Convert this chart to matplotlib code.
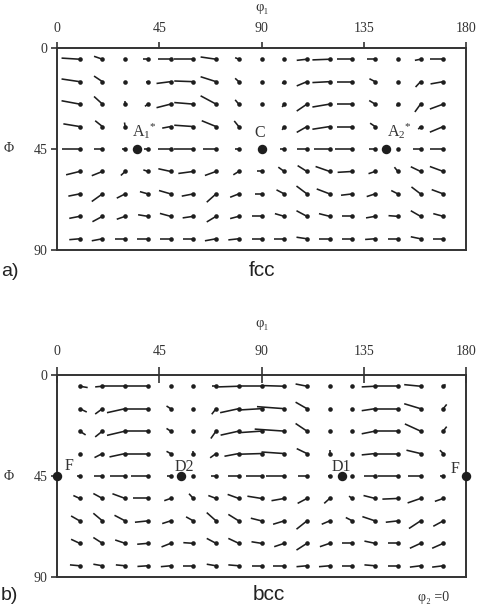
import numpy as np
import matplotlib
matplotlib.use("Agg")
import matplotlib.pyplot as plt

plt.rcParams['font.family'] = ['Liberation Serif', 'DejaVu Serif']

# grid of the vector field
PHI1 = [10, 20, 30, 40, 50, 60, 70, 80, 90, 100, 110, 120, 130, 140, 150, 160, 170]
PHI = [5, 15, 25, 35, 45, 55, 65, 75, 85]
nan = np.nan

# fcc: tail offsets (d phi1, d Phi) of each vector, line goes tail -> grid point
FCC_U = [
    [8, 3.7, 0, 2, 5.7, 8.4, 6.8, 1.6, 0, 0, 4.5, 7.6, 6.9, 3.4, 0, 2.5, 5.9],
    [8, 3.7, 0, 1, 6.2, 8.4, 6.8, 1.6, 0, 0.9, 4.5, 7.6, 6.9, 2.5, 0, 2.2, 5.6],
    [8, 3.7, 0, 1.3, 6.2, 8.4, 6.8, 1.6, 0, 0.9, 4.5, 7.6, 6.9, 2.6, 0.5, 2.5, 5.9],
    [7.2, 3.2, 0.3, nan, 3.7, 8.4, 6.3, 2, nan, 0.9, 4.5, 7.6, 6.9, 2.2, nan, 1, 5.9],
    [8, 3.7, 1.2, 1.6, 5.7, 8.4, 5.6, 1.6, 0, 2, 4.5, 6.8, 7.6, 2.5, 0.5, 3.2, 5.9],
    [6, 4.7, 1.9, 2, 5.4, 6.6, 4.9, 2.4, 2.2, 2.6, 4.1, 6.2, 6.5, 2.9, 1.5, 4.3, 5.9],
    [5, 4.7, 3.7, 3.5, 5.1, 5.1, 4.1, 3.8, 2.9, 3.4, 4.6, 5.7, 5, 3.7, 2.9, 4, 5.1],
    [4.6, 4.4, 3.7, 4.3, 4.7, 4.7, 4.1, 3.8, 4.4, 4.1, 4.6, 4.7, 4.4, 4, 4.1, 4.3, 4.4],
    [4.6, 4.7, 4.4, 4.6, 4.7, 4.7, 4.9, 4.6, 4.4, 4.4, 4.6, 4.7, 4.4, 4.4, 4.4, 4.3, 4.7],
]
FCC_V = [
    [0.5, 1.3, 0, 0, 0, 0, 1, 0.7, 0, 0, -0.5, -0.3, 0, 0, 0, -0.5, 0],
    [1.2, 2.5, 0, 0, -0.8, 0.3, 2.2, 1.5, 0, -0.9, -1.9, -0.4, 0, 1.3, 0, -2.4, -1.0],
    [1.5, 3.4, 1.3, -1, -1.6, 0.7, 3.7, 1.9, 0, -1.3, -3.1, -1.3, 0, 1.6, -1, -3.5, -2.2],
    [1.2, 2.6, 1.8, nan, -0.7, 0.6, 2.6, 2.5, nan, -1.5, -2.6, -1.2, 0, 1.5, nan, -1.2, -2.5],
    [0, 0, 0, 0, 0, 0, 0, 0, 0, 0, 0, 0, 0, 0, 0, 0, 0],
    [-1.5, -1.9, -1.8, 0.7, 1.2, -0.9, -1.8, -1.5, 0, 1.9, 2.6, 2.2, -0.4, -1, 1.9, 2.1, 2.2],
    [-1, -3.4, -1.9, 1, 1.5, -1, -3.7, -1.5, 0, 1.8, 3.5, 2.2, -0.6, -1.2, 1.5, 3.1, 1.9],
    [-0.9, -2.4, -1.3, 0.7, 1.3, -0.7, -2.5, -1, 0, 1.2, 2.5, 1.2, 0, -0.7, 0.3, 2.5, 1.2],
    [-0.4, -0.9, 0, 0, 0, 0, -0.9, -0.5, 0, 0, 0.7, 0, 0, -0.3, 0, 0.9, 0],
]

BCC_U = [
    [-3.5, 3.2, 10, 10, 0, 0, 1.9, 9, 10, 10, 5, 0, 0, 5.9, 10, 7.2, -1],
    [-3.1, 3.2, 8, 10, 1.8, 0, 1.9, 8.2, 10, 12, 5, 0, 0, 5.9, 10, 7.2, -1.5],
    [-2.6, 3.2, 8, 10, 1.8, 0, 2.3, 8, 10, 13, 5, 0, 0, 5.9, 10, 6.9, -1.5],
    [0, 3.5, 6.9, 10, 1.8, 0, 2.6, 6.3, 10, 10, 4.5, 0, 0, 5.9, 10, 6.2, 1.5],
    [1.2, 3.5, 6.6, 7.5, 1.8, 0.3, 2.2, 4.6, 6.9, 7.8, 3.8, 0.9, 0.3, 5.1, 8.8, 5.4, 1.5],
    [2.8, 4, 5.6, 6.5, 2.8, 1.9, 3.4, 4.9, 6.2, 5.6, 4.1, 2.4, 1.5, 5.1, 6.8, 5.7, 3.7],
    [3.8, 4, 4.7, 5.7, 3.7, 3.2, 4.1, 4.6, 4.7, 4.9, 4.6, 3.5, 2.9, 5.6, 5.3, 5.1, 4.4],
    [3.8, 4, 4.4, 4.7, 4, 4.4, 4.1, 4.6, 4.4, 4.4, 4.6, 4.3, 4.4, 4.7, 4.4, 4.7, 4.9],
    [4.3, 4, 4.1, 4.6, 4.3, 4.4, 4.1, 4.6, 4.4, 4.9, 4.6, 4.7, 4.7, 4.7, 4.4, 4.7, 4.9],
]
BCC_V = [
    [-0.6, -0.3, 0, 0, 0, 0, 0, -0.3, 0, 0.3, 1, 0, 0, -0.3, 0, 0.7, 0.8],
    [-1.5, -2.4, -1.8, 0, 1.2, 0, -2.5, -1.8, -0.6, 0.9, 2.9, 0, 0, -0.9, 0, 2.2, 1.9],
    [-1.7, -2.6, -1.9, 0, 1.2, 0, -3.3, -1.8, -0.7, 0.9, 3.4, 0, 0, -1.2, 0, 3.2, 2],
    [0, -1.8, -1.5, 0, 1, 1.2, -1.9, -1.2, -0.3, 0.7, 2.2, 1.5, 0, -0.6, 0, 1.5, 1.5],
    [0, 0, 0, 0, 0, 0, 0, 0, 0, 0, 0, 0, 0, 0, 0, 0, 0],
    [1.3, 2.2, 2.1, 0, -1, 2.1, 1.3, 1.8, 1, -1, -2.2, -2.2, 1, 1.3, -0.3, -2, -1.3],
    [2.2, 3.4, 2.5, -0.6, -1.2, 1.8, 3.7, 2.9, 1.2, -1.5, -3.7, -1.5, 1.5, 1.9, -0.6, -3.4, -2.4],
    [1.8, 2.6, 1.5, -0.4, -1.6, 0.3, 2.2, 2.2, 0.7, -1.5, -3, -1.5, 0, 1, 0, -2.2, -2.2],
    [0.4, 0.7, 0.4, -0.3, -0.4, 0, 0.7, 0.4, 0, 0, -0.4, -0.4, 0, 0.4, 0, -0.6, -0.6],
]

# special orientations (phi1, Phi), label, label position
FCC_POINTS = [(35.26, 45), (90, 45), (144.74, 45)]
FCC_LABELS = [(r'$\mathregular{A_1}^{*}$', 33.2, 39.5), ('C', 87.0, 39.5), (r'$\mathregular{A_2}^{*}$', 145.4, 39.5)]
BCC_POINTS = [(0, 45), (54.74, 45), (125.26, 45), (180, 45)]
BCC_LABELS = [('F', 3.2, 42.5), ('D2', 51.8, 42.7), ('D1', 120.8, 42.7), ('F', 173.4, 43.5)]

TICKS = [0, 45, 90, 135, 180]
YTICKS = [0, 45, 90]

plt.rcParams['mathtext.fontset'] = 'custom'
plt.rcParams['mathtext.rm'] = 'Liberation Serif'
plt.rcParams['mathtext.it'] = 'Liberation Serif:italic'

fig = plt.figure(figsize=(4.8, 6.1), dpi=100)
ax_a = fig.add_axes([57/480, 1-250/610, 409/480, 202/610])
ax_b = fig.add_axes([57/480, 1-577/610, 409/480, 202/610])

col = '#1e1e1e'


def draw_field(ax, U, V, points, labels, tickdir, ticklen, tickpad):
    ax.set_xlim(0, 180)
    ax.set_ylim(90, 0)
    ax.xaxis.tick_top()
    ax.set_xticks(TICKS)
    ax.set_yticks(YTICKS)
    ax.tick_params(axis='x', direction=tickdir, length=ticklen, width=1.2,
                   pad=tickpad, labelsize=10, colors='#333333')
    ax.tick_params(axis='y', direction='out', length=4, width=1.2,
                   pad=3, labelsize=10, colors='#333333')
    for s in ax.spines.values():
        s.set_linewidth(1.4)
        s.set_color('#333333')
    for i, p in enumerate(PHI):
        for j, f in enumerate(PHI1):
            u = U[i][j]
            v = V[i][j]
            if np.isnan(u):
                continue
            ax.plot([f - u, f], [p - v, p], color=col, lw=1.15, solid_capstyle='butt')
            ax.plot(f, p, 'o', color=col, ms=3.3, mew=0)
    for x, y in points:
        ax.plot(x, y, 'o', color=col, ms=6.8, mew=0, clip_on=False, zorder=5)
    for s, x, y in labels:
        ax.text(x, y, s, fontsize=11.5, color='#333333', ha='left', va='baseline')


draw_field(ax_a, FCC_U, FCC_V, FCC_POINTS, FCC_LABELS, 'out', 4, 5)
draw_field(ax_b, BCC_U, BCC_V, BCC_POINTS, BCC_LABELS, 'inout', 11, 7)

for ax, ytop, ymid in [(ax_a, 7, 149), (ax_b, 323, 476)]:
    fig.text(262/480, 1 - ytop/610, 'φ₁', fontsize=10.5, ha='center', va='center', color='#333333')
    fig.text(9/480, 1 - ymid/610, 'Φ', fontsize=10, ha='center', va='center', color='#333333')

sans = ['Liberation Sans', 'DejaVu Sans']
fig.text(262/480, 1 - 271/610, 'fcc', fontsize=15, family=sans, ha='center', va='center', color='#222222')
fig.text(1/480, 1 - 272/610, 'a)', fontsize=14, family=sans, ha='left', va='center', color='#222222')
fig.text(269/480, 1 - 595/610, 'bcc', fontsize=15, family=sans, ha='center', va='center', color='#222222')
fig.text(1/480, 1 - 596/610, 'b)', fontsize=14, family=sans, ha='left', va='center', color='#222222')
fig.text(418/480, 1 - 598/610, 'φ₂ =0', fontsize=10, ha='left', va='center', color='#333333')

fig.savefig('out.png', dpi=100)
